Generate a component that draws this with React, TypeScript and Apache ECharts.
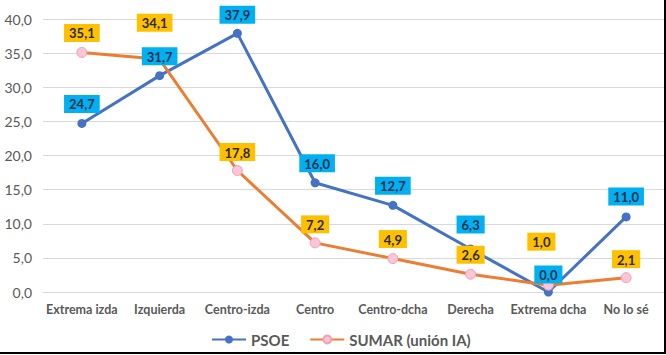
import React, { useEffect, useRef } from "react";
import * as echarts from "echarts";

const categories = ["Extrema izda", "Izquierda", "Centro-izda", "Centro", "Centro-dcha", "Derecha", "Extrema dcha", "No lo sé"];
const psoe = [24.7, 31.7, 37.9, 16.0, 12.7, 6.3, 0.0, 11.0];
const sumar = [35.1, 34.1, 17.8, 7.2, 4.9, 2.6, 1.0, 2.1];
const yTicks = { min: 0, max: 40, interval: 5 };

// label nudges (style only)
const psoeLabelOffsets: [number, number][] = [[0, 0], [0, 0], [0, 1], [2, 0], [0, 0], [0, -5], [0, 2], [0, -1]];
const sumarLabelOffsets: [number, number][] = [[0, 0], [-5, -17], [0, 1], [0, 1], [0, 0], [0, 0], [-7, -24], [0, 1]];

const FONT = "Lato, 'Open Sans', sans-serif";
const fmt = (v: number) => v.toFixed(1).replace(".", ",");

export default function App() {
  const ref = useRef<HTMLDivElement>(null);
  useEffect(() => {
    if (!ref.current) return;
    const chart = echarts.init(ref.current, undefined, { renderer: "svg" });
    const labelBase = {
      show: true,
      position: "top" as const,
      distance: 6,
      fontFamily: FONT,
      fontSize: 13,
      fontWeight: "bold" as const,
      padding: [3, 5, 2, 5],
      formatter: (p: any) => fmt(p.value),
    };
    const lineSeries = (name: string, data: number[], lineColor: string, itemStyle: any, size: number, z: number) => ({
      name,
      type: "line",
      data,
      lineStyle: { color: lineColor, width: 3 },
      itemStyle,
      symbol: "circle",
      symbolSize: size,
      z,
      label: { show: false },
    });
    const labelSeries = (name: string, data: number[], offsets: [number, number][], bg: string, color: string) => ({
      name,
      type: "line",
      data: data.map((v, i) => ({ value: v, label: { offset: offsets[i] } })),
      lineStyle: { width: 0, color: "rgba(0,0,0,0)" },
      itemStyle: { color: "rgba(0,0,0,0)", borderWidth: 0 },
      symbol: "circle",
      symbolSize: 9,
      silent: true,
      z: 10,
      label: { ...labelBase, backgroundColor: bg, color },
    });
    chart.setOption({
      animation: false,
      textStyle: { fontFamily: FONT },
      grid: { left: 43, right: 1, top: 19, bottom: 63, containLabel: false },
      xAxis: {
        type: "category",
        data: categories,
        boundaryGap: true,
        axisLine: { lineStyle: { color: "#d9d9d9", width: 1 } },
        axisTick: { show: false },
        axisLabel: { color: "#595959", fontSize: 12.5, fontWeight: "bold", margin: 11, fontFamily: FONT, interval: 0 },
      },
      yAxis: {
        type: "value",
        min: yTicks.min,
        max: yTicks.max,
        interval: yTicks.interval,
        axisLine: { show: false },
        axisTick: { show: false },
        splitLine: { lineStyle: { color: "#d9d9d9", width: 1 } },
        axisLabel: { color: "#595959", fontSize: 14, margin: 11, fontFamily: FONT, formatter: (v: number) => fmt(v) },
      },
      legend: {
        bottom: 3,
        left: 206,
        itemWidth: 34,
        itemHeight: 10,
        itemGap: 20,
        textStyle: { color: "#595959", fontSize: 15, fontFamily: FONT, fontWeight: "bold" },
        data: ["PSOE", "SUMAR (unión IA)"],
      },
      series: [
        lineSeries("PSOE", psoe, "#4472C4", { color: "#4472C4" }, 9, 3),
        lineSeries("SUMAR (unión IA)", sumar, "#ED7D31", { color: "#F8C6D8", borderColor: "#F2A0B4", borderWidth: 1 }, 10, 4),
        labelSeries("PSOE etiquetas", psoe, psoeLabelOffsets, "#00B0F0", "#1b2f4f"),
        labelSeries("SUMAR etiquetas", sumar, sumarLabelOffsets, "#FFC000", "#2b2b2b"),
      ],
      graphic: [
        { type: "line", shape: { x1: 665, y1: 0, x2: 665, y2: 354 }, style: { stroke: "#000", lineWidth: 2 }, z: 100 },
        { type: "line", shape: { x1: 0, y1: 353, x2: 666, y2: 353 }, style: { stroke: "#000", lineWidth: 2 }, z: 100 },
      ],
    });
    return () => chart.dispose();
  }, []);
  return (
    <div
      ref={ref}
      style={{ position: "absolute", left: 0, top: 0, width: 666, height: 355, background: "#fff" }}
    />
  );
}
